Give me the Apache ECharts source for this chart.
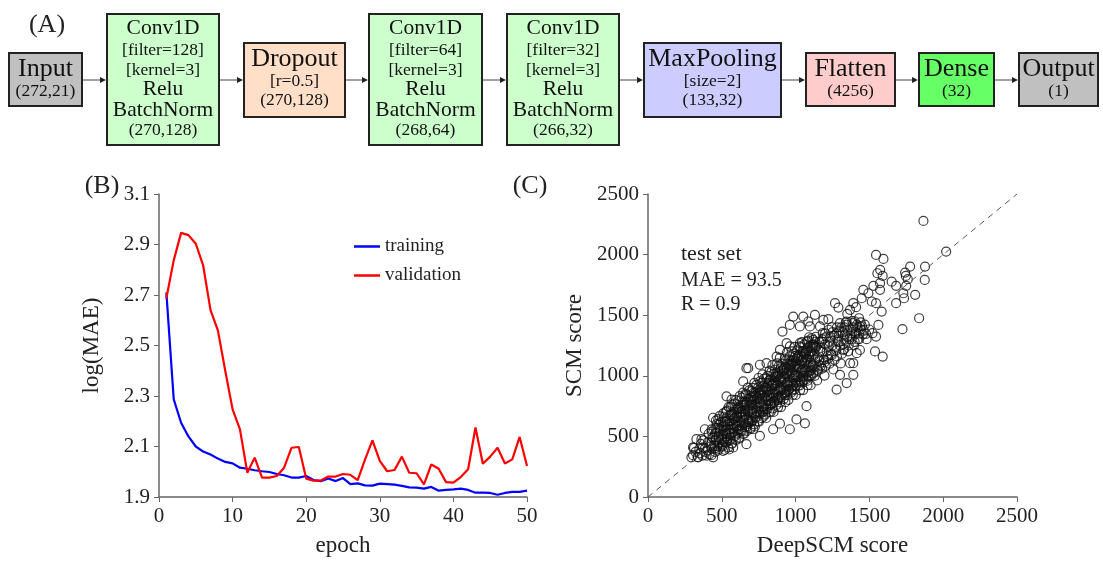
<!DOCTYPE html>
<html>
<head>
<meta charset="utf-8">
<script src="https://cdn.jsdelivr.net/npm/echarts@6/dist/echarts.min.js"></script>
<style>
  html, body { margin: 0; padding: 0; background: #fff; }
  #main { width: 1103px; height: 562px; }
</style>
</head>
<body>
<div id="main"></div>
<script>
// (A) network layers
var layerLines = [
  ['Input', '(272,21)'],
  ['Conv1D', '[filter=128]', '[kernel=3]', 'Relu', 'BatchNorm', '(270,128)'],
  ['Dropout', '[r=0.5]', '(270,128)'],
  ['Conv1D', '[filter=64]', '[kernel=3]', 'Relu', 'BatchNorm', '(268,64)'],
  ['Conv1D', '[filter=32]', '[kernel=3]', 'Relu', 'BatchNorm', '(266,32)'],
  ['MaxPooling', '[size=2]', '(133,32)'],
  ['Flatten', '(4256)'],
  ['Dense', '(32)'],
  ['Output', '(1)']
];

// (B) learning curves
var epochs = [];
for (var e = 1; e <= 50; e++) epochs.push(e);
var training = [2.71, 2.287, 2.194, 2.14, 2.10, 2.08, 2.068, 2.052, 2.039, 2.033,
  2.016, 2.012, 2.006, 2.002, 1.999, 1.991, 1.986, 1.977, 1.977, 1.983,
  1.967, 1.963, 1.973, 1.963, 1.975, 1.951, 1.954, 1.946, 1.945, 1.953,
  1.951, 1.949, 1.944, 1.938, 1.937, 1.933, 1.940, 1.925, 1.928, 1.930,
  1.933, 1.928, 1.917, 1.917, 1.916, 1.909, 1.916, 1.920, 1.920, 1.925];
var validation = [2.687, 2.837, 2.946, 2.937, 2.903, 2.817, 2.64, 2.56, 2.40, 2.247,
  2.168, 1.996, 2.056, 1.977, 1.977, 1.983, 2.016, 2.095, 2.098, 1.973,
  1.965, 1.965, 1.981, 1.981, 1.991, 1.988, 1.967, 2.049, 2.124, 2.043,
  2.002, 2.007, 2.06, 1.996, 1.994, 1.95, 2.029, 2.012, 1.959, 1.957,
  1.979, 2.01, 2.175, 2.032, 2.06, 2.095, 2.033, 2.049, 2.138, 2.023];

// (C) test set: [DeepSCM score, SCM score]
var testScores = [
  [305,345],[312,405],[322,372],[335,330],[348,398],[352,360],[358,438],[368,342],[374,468],[386,402],[392,372],
  [402,385],[406,452],[411,522],[416,352],[426,418],[431,558],[442,488],[447,430],[452,402],[456,462],[461,532],[466,602],[471,382],[476,642],[481,492],[486,562],[494,615],
  [501,432],[504,512],[511,588],[516,662],[519,452],[526,702],[531,558],[536,622],[541,482],[546,742],[549,392],
  [552,522],[556,602],[561,682],[566,442],[571,762],[576,562],[579,642],[586,722],[591,502],[596,802],[598,668],
  [602,582],[606,662],[611,742],[616,482],[621,832],[624,622],[631,702],[636,542],[641,782],[644,862],[649,602],
  [652,522],[656,682],[661,762],[664,842],[671,582],[676,902],[681,642],[684,722],[691,802],[694,562],[699,872],
  [702,622],[706,702],[709,782],[716,862],[721,942],[724,582],[731,662],[736,742],[739,822],[746,902],[749,982],
  [752,622],[754,702],[761,782],[766,862],[769,942],[776,1012],[781,662],[784,742],[791,822],[794,902],[799,982],
  [801,652],[806,722],[811,802],[814,882],[821,962],[824,1042],[831,702],[834,772],[841,852],[844,932],[849,1012],[843,1088],
  [851,702],[856,782],[859,862],[866,942],[871,1022],[874,1102],[881,742],[884,822],[891,902],[894,982],[899,1062],[893,1148],
  [901,742],[904,822],[911,902],[916,982],[919,1062],[926,1142],[931,782],[934,862],[941,942],[944,1022],[949,1102],[941,1192],
  [951,802],[954,882],[961,962],[964,1042],[971,1122],[974,1202],[981,842],[984,922],[991,1002],[994,1082],[999,1162],[993,1238],
  [1001,842],[1004,922],[1011,1002],[1016,1082],[1019,1162],[1026,1242],[1031,882],[1034,962],[1041,1042],[1044,1122],[1049,1202],[1043,1278],
  [1051,882],[1054,962],[1061,1042],[1066,1122],[1069,1202],[1076,1282],[1081,922],[1084,1002],[1091,1082],[1094,1162],[1099,1242],[1091,1318],
  [1102,922],[1107,1002],[1116,1082],[1121,1162],[1131,1242],[1137,1322],[1146,962],[1151,1042],[1159,1122],[1167,1202],[1176,1282],[1184,1352],
  [1196,1002],[1204,1082],[1216,1162],[1224,1242],[1236,1322],[1244,1402],[1256,1052],[1264,1132],[1276,1212],[1284,1292],[1296,1372],
  [1306,1102],[1314,1182],[1326,1262],[1334,1342],[1346,1422],[1356,1202],[1364,1302],[1376,1382],[1384,1452],[1396,1252],[1404,1342],[1416,1422],
  [1431,1302],[1441,1382],[1456,1342],[1469,1422],[1481,1302],[1499,1382],[1521,1352],
  [505,470],[530,520],[555,560],[580,600],[605,620],[620,700],[640,660],[660,720],[680,700],[700,760],[720,800],[740,780],
  [760,840],[780,880],[800,900],[820,840],[840,920],[860,960],[880,1000],[900,960],[920,1020],[940,1060],[960,1080],[980,1100],
  [1000,1120],[1020,1060],[1040,1160],[1060,1180],[1080,1140],[1100,1200],[1120,1260],[1140,1240],[1160,1280],[1180,1300],
  [600,720],[650,760],[700,820],[750,860],[800,760],[850,820],[900,880],[950,920],[1000,960],[1050,1000],[1100,1040],
  [560,520],[620,560],[680,620],[740,700],[780,700],[830,760],[880,800],[930,840],[980,880],[1030,920],[1080,960],
  [1130,1000],[1180,1060],[1230,1100],[1280,1160],[1330,1220],[1380,1300],
  [430,345],[433,398],[428,446],[436,494],[431,540],[455,372],[452,421],[458,473],[454,521],[457,571],
  [480,396],[483,449],[478,499],[486,547],[481,597],[505,418],[502,477],[508,523],[504,577],[509,624],
  [530,449],[533,502],[528,551],[536,600],[531,650],[555,470],[552,529],[558,578],[554,627],[557,679],
  [580,497],[583,556],[578,603],[586,654],[581,702],[605,523],[602,580],[608,631],[604,679],[609,732],
  [630,551],[633,607],[628,657],[636,706],[631,755],[655,576],[652,633],[658,681],[654,734],[657,785],
  [680,603],[683,659],[678,709],[686,758],[681,811],[705,628],[702,686],[708,734],[704,786],[709,836],
  [730,656],[733,711],[728,761],[736,812],[731,864],[755,681],[752,738],[758,788],[754,837],[757,889],
  [780,707],[783,764],[778,812],[786,865],[781,914],[805,733],[802,791],[808,840],[804,889],[809,941],
  [830,761],[833,816],[828,867],[836,918],[831,968],[855,786],[852,843],[858,892],[854,944],[857,993],
  [880,812],[883,869],[878,919],[886,968],[881,1021],[905,839],[902,894],[908,946],[904,995],[909,1046],
  [930,865],[933,922],[928,972],[936,1021],[931,1073],[955,891],[952,948],[958,998],[954,1049],[957,1098],
  [980,918],[983,975],[978,1023],[986,1075],[981,1126],[1005,943],[1002,1001],[1008,1050],[1004,1101],[1009,1151],
  [1030,970],[1033,1027],[1028,1077],[1036,1126],[1031,1178],[1055,996],[1052,1053],[1058,1103],[1054,1154],[1057,1203],
  [1080,1023],[1083,1079],[1078,1129],[1086,1178],[1081,1230],[1105,1048],[1102,1106],[1108,1155],[1104,1205],[1109,1256],
  [1130,1077],[1133,1131],[1128,1182],[1136,1232],[1131,1281],
  [1150,1150],[1170,1230],[1190,1310],[1210,1200],[1230,1280],[1250,1360],[1270,1240],[1290,1330],[1310,1400],[1330,1300],
  [1350,1380],[1370,1330],[1390,1400],[1410,1360],[1420,1300],[1440,1440],[1460,1380],[1360,1250],[1300,1250],[1240,1180],
  [1190,1130],[1160,1090],
  [460,630],[485,668],[510,690],[535,712],[560,745],[585,770],[610,790],[635,820],[660,850],[685,880],[710,900],[735,925],
  [760,955],[785,975],[810,1000],[835,1030],[860,1050],[885,1080],[910,1100],[935,1130],[960,1160],[985,1180],[1010,1210],
  [1035,1235],[1060,1260],[1085,1290],[1110,1310],
  [520,390],[545,410],[570,440],[595,470],[620,490],[645,520],[670,545],[695,570],[720,600],[745,625],[770,650],[795,680],
  [820,700],[845,730],[870,760],[895,780],[920,810],[945,840],[970,860],[995,890],[1020,920],[1045,945],[1070,970],
  [1095,1000],[1120,1020],[1145,1050],[1170,1080],[1195,1110],[1220,1140],[1245,1170],
  [470,420],[520,480],[570,530],[620,590],[670,640],[720,690],[770,740],[820,790],[870,840],[920,890],[970,940],[1020,990],
  [1070,1040],[1120,1090],[470,570],[520,620],[570,680],[620,730],[670,780],[720,830],[770,880],[820,940],[870,990],
  [920,1040],[970,1090],[1020,1140],[1070,1190],[1120,1240],
  [1200,1350],[1225,1380],[1260,1330],[1280,1400],[1320,1360],[1340,1440],[1380,1350],[1400,1450],[1430,1350],[1450,1410],
  [1330,1400],[1290,1280],[1250,1250],[1350,1320],[1400,1280],[1180,1200],[1200,1260],[1420,1400],
  [1866,2278],[2020,2025],[1545,1997],[1595,1964],[1573,1874],[1554,1846],[1590,1825],[1776,1901],[1742,1852],[1747,1824],
  [1760,1797],[1877,1901],[1875,1791],[1651,1777],[1681,1742],[1749,1742],[1730,1681],[1735,1640],[1810,1668],[1681,1599],
  [1837,1475],[1724,1385],[1572,1764],[1527,1742],[1572,1709],[1583,1530],[1545,1599],[1516,1613],[1459,1709],[1493,1681],
  [1448,1640],[1391,1599],[1410,1566],[1430,1475],[1369,1544],[1267,1599],[1290,1563],[1350,1511],[1538,1201],[1590,1159],
  [1545,1324],[1477,1346],[1561,1420],[911,1365],[984,1489],[1052,1489],[1131,1503],[1086,1448],[1188,1462],[1222,1467],
  [961,1420],[1029,1407],[1097,1407],[1165,1407],[1301,1434],[1346,1448],[1391,1434],[1436,1407],[803,1104],[871,1159],
  [961,1242],[1029,1269],[939,1269],[894,1214],[1120,1297],[1210,1324],[1278,1352],[1323,1214],[1369,1104],[1414,1187],
  [679,1063],[758,1091],
  [305,409],[294,327],[339,327],[396,341],[441,327],[373,409],[328,477],[362,477],[385,559],[441,654],[532,831],[566,804],
  [667,1063],[645,954],[894,605],[1063,608],[667,436],[509,381],[577,409],[1074,749],[1278,886],[1346,940],[1391,1008],
  [1301,1008],[1391,1104],[1436,1213],[1006,640],[961,559],[848,559],[758,504],[713,559]
];
var identityLine = [[0, 0], [2500, 2500]];
var statLines = ['test set', 'MAE = 93.5', 'R = 0.9'];

// layout of panel A
var serif = '"Liberation Serif", "DejaVu Serif", serif';
var layerFill = ['#c0c0c0', '#ccffcc', '#ffdfc8', '#ccffcc', '#ccffcc', '#ccccff', '#ffcccc', '#66ff66', '#c0c0c0'];
var boxLeft = [9, 107, 244, 369, 507, 644, 806, 919, 1019];
var boxRight = [82, 219, 345, 482, 619, 781, 895, 994, 1098];
var boxSpan = { 2: [53, 106], 3: [43, 117], 6: [14, 145] };
var lineY = { 2: [69, 91], 3: [59, 81, 100], 6: [28, 50, 70, 89, 110, 130] };
var arrowY = 80;

var graphics = [];
layerLines.forEach(function(lines, i) {
  var n = lines.length;
  var span = boxSpan[n];
  graphics.push({
    type: 'rect',
    shape: { x: boxLeft[i], y: span[0], width: boxRight[i] - boxLeft[i], height: span[1] - span[0] },
    style: { fill: layerFill[i], stroke: '#222', lineWidth: 2 }
  });
  var cx = (boxLeft[i] + boxRight[i]) / 2;
  lines.forEach(function(t, j) {
    var small = t.charAt(0) === '[' || t.charAt(0) === '(';
    var size = small ? 17.5 : (n === 6 ? 21.5 : 26);
    graphics.push({
      type: 'text', x: cx, y: lineY[n][j],
      style: { text: t, font: size + 'px ' + serif, fill: '#111', align: 'center', verticalAlign: 'middle' }
    });
  });
  if (i < layerLines.length - 1) {
    var x1 = boxRight[i] + 1, x2 = boxLeft[i + 1] - 1;
    graphics.push({ type: 'line', shape: { x1: x1, y1: arrowY, x2: x2 - 4, y2: arrowY }, style: { stroke: '#444', lineWidth: 1 } });
    graphics.push({ type: 'polygon', shape: { points: [[x2 - 6, arrowY - 3], [x2, arrowY], [x2 - 6, arrowY + 3]] }, style: { fill: '#222' } });
  }
});
[['(A)', 47, 25], ['(B)', 102, 186], ['(C)', 530, 186]].forEach(function(p) {
  graphics.push({ type: 'text', x: p[1], y: p[2], style: { text: p[0], font: '26px ' + serif, fill: '#222', align: 'center', verticalAlign: 'middle' } });
});
var statY = [254, 281, 305];
statLines.forEach(function(t, j) {
  graphics.push({ type: 'text', x: 681, y: statY[j], style: { text: t, font: (j === 0 ? 22 : 20) + 'px ' + serif, fill: '#222', verticalAlign: 'middle' } });
});

function axis(extra) {
  var base = {
    type: 'value',
    axisLine: { show: true, lineStyle: { color: '#666', width: 1.5 } },
    axisTick: { show: true, length: 5, lineStyle: { color: '#666' } },
    axisLabel: { fontSize: 21, color: '#222', fontFamily: serif, margin: 9, formatter: function(v) { return String(v); } },
    splitLine: { show: false },
    nameLocation: 'middle',
    nameTextStyle: { fontSize: 23, color: '#222', fontFamily: serif }
  };
  for (var k in extra) base[k] = extra[k];
  return base;
}

var chart = echarts.init(document.getElementById('main'));
chart.setOption({
  animation: false,
  backgroundColor: '#fff',
  graphic: graphics,
  grid: [
    { left: 159, top: 194, width: 368, height: 304 },
    { left: 648, top: 194, width: 369, height: 304 }
  ],
  legend: {
    data: [{ name: 'training', icon: 'rect' }, { name: 'validation', icon: 'rect' }],
    orient: 'vertical', left: 349, top: 232,
    itemWidth: 26, itemHeight: 2.5, itemGap: 10,
    textStyle: { fontSize: 19, color: '#222', fontFamily: serif }
  },
  xAxis: [
    axis({ gridIndex: 0, min: 0, max: 50, interval: 10, name: 'epoch', nameGap: 37 }),
    axis({ gridIndex: 1, min: 0, max: 2500, interval: 500, name: 'DeepSCM score', nameGap: 37 })
  ],
  yAxis: [
    axis({ gridIndex: 0, min: 1.9, max: 3.1, interval: 0.2, name: 'log(MAE)', nameGap: 56,
      axisLabel: { fontSize: 21, color: '#222', fontFamily: serif, margin: 9, formatter: function(v) { return v.toFixed(1); } } }),
    axis({ gridIndex: 1, min: 0, max: 2500, interval: 500, name: 'SCM score', nameGap: 62 })
  ],
  series: [
    {
      name: 'training', type: 'line', xAxisIndex: 0, yAxisIndex: 0, symbol: 'none',
      data: epochs.map(function(x, i) { return [x, training[i]]; }),
      lineStyle: { color: '#0000ff', width: 2.2 }, itemStyle: { color: '#0000ff' }
    },
    {
      name: 'validation', type: 'line', xAxisIndex: 0, yAxisIndex: 0, symbol: 'none',
      data: epochs.map(function(x, i) { return [x, validation[i]]; }),
      lineStyle: { color: '#ff0000', width: 2.2 }, itemStyle: { color: '#ff0000' }
    },
    {
      type: 'scatter', xAxisIndex: 1, yAxisIndex: 1, symbol: 'circle', symbolSize: 9,
      data: testScores,
      itemStyle: { color: 'rgba(0,0,0,0)', borderColor: '#111', borderWidth: 1.2 }
    },
    {
      type: 'line', xAxisIndex: 1, yAxisIndex: 1, symbol: 'none', data: identityLine,
      lineStyle: { color: '#555', width: 1, type: [6, 5] }, z: 3
    }
  ]
});
</script>
</body>
</html>
